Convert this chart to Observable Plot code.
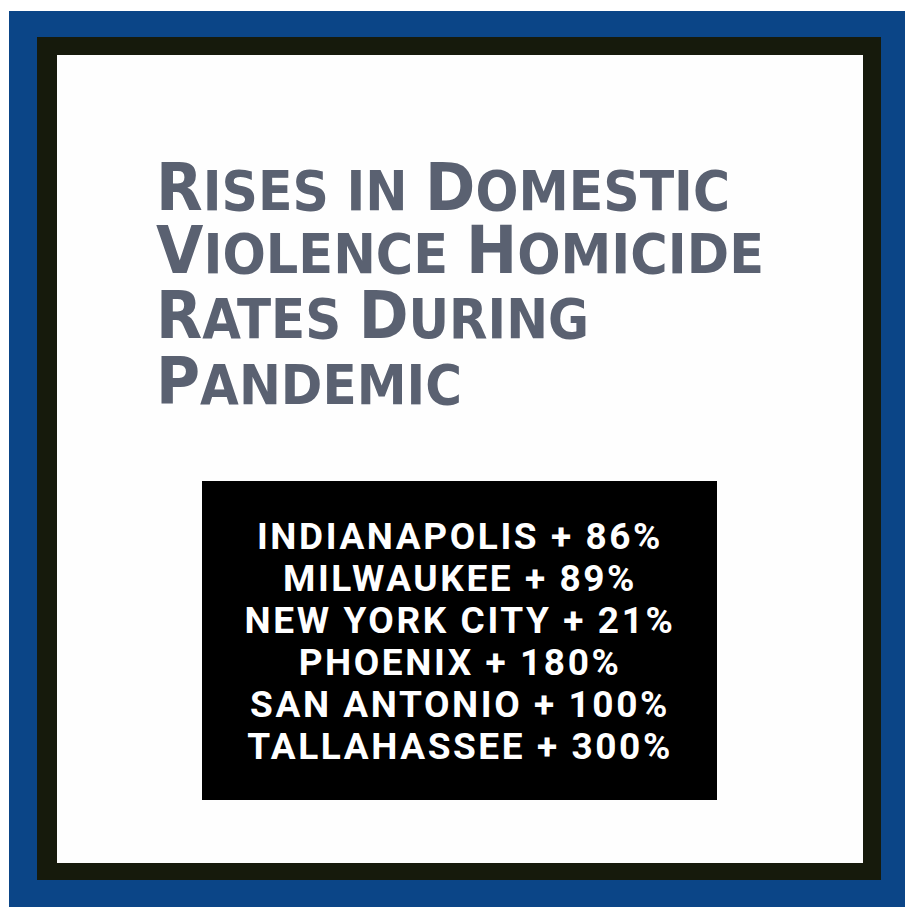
<!DOCTYPE html>
<html>
<head>
<meta charset="utf-8">
<script src="https://cdn.jsdelivr.net/npm/d3@7"></script>
<script src="https://cdn.jsdelivr.net/npm/@observablehq/plot@0.6"></script>
<style>
  html, body { margin: 0; padding: 0; background: #ffffff; width: 905px; height: 907px; overflow: hidden; }
  #blue { position: absolute; left: 9px; top: 11px; width: 896px; height: 896px; background: #0b4587; }
  #black { position: absolute; left: 37px; top: 37px; width: 844px; height: 843px; background: #161a0c; }
  #white { position: absolute; left: 57px; top: 55px; width: 806px; height: 808px; background: #fefefe; }
  .tline { position: absolute; left: 156px; white-space: nowrap; color: #5a6171;
           font-family: "DejaVu Sans", sans-serif; font-weight: bold; font-size: 66px; line-height: 50px; height: 50px;
           transform-origin: 0 50%; }
  .tline .sm { font-size: 55px; line-height: 50px; }
  #table { position: absolute; left: 202px; top: 481px; }
</style>
</head>
<body>
<div id="blue"></div>
<div id="black"></div>
<div id="white"></div>
<div id="title"></div>
<div id="table"></div>
<script>
// ---- data ----
const cities = ["INDIANAPOLIS", "MILWAUKEE", "NEW YORK CITY", "PHOENIX", "SAN ANTONIO", "TALLAHASSEE"];
const rises = [86, 89, 21, 180, 100, 300];
const titleLines = ["Rises in Domestic", "Violence Homicide", "Rates During", "Pandemic"];

// ---- layout (style only) ----
const titleTops = [163, 226, 291, 357];
const titleWidths = [574, 608, 433, 306];

// Title: small-caps look (capital letters drawn larger than the rest)
const titleEl = document.getElementById("title");
titleLines.forEach((line, i) => {
  const div = document.createElement("div");
  div.className = "tline";
  div.style.top = titleTops[i] + "px";
  let html = "";
  for (const ch of line) {
    const isCap = ch !== " " && ch === ch.toUpperCase();
    html += isCap ? ch : `<span class="sm">${ch === " " ? "&nbsp;" : ch.toUpperCase()}</span>`;
  }
  div.innerHTML = html;
  titleEl.appendChild(div);
  const w = div.getBoundingClientRect().width;
  div.style.transform = `scaleX(${titleWidths[i] / w})`;
});

// Table of rises
const data = cities.map((city, i) => ({city, rise: rises[i]}));
const chart = Plot.plot({
  width: 515,
  height: 319,
  marginTop: 54,
  marginBottom: 52,
  marginLeft: 0,
  marginRight: 0,
  y: {domain: cities, axis: null, padding: 0},
  style: {background: "#000000", color: "#ffffff", overflow: "visible"},
  marks: [
    Plot.text(data, {
      y: "city",
      frameAnchor: "middle",
      text: d => `${d.city} + ${d.rise}%`,
      fill: "#ffffff",
      fontSize: 37,
      fontWeight: "bold",
      fontFamily: "Roboto, sans-serif"
    })
  ]
});
document.getElementById("table").appendChild(chart);

// fit letter spacing so the first line matches the reference width
const texts = chart.querySelectorAll("text");
if (texts.length) {
  const first = texts[0];
  const w0 = first.getComputedTextLength();
  const n = first.textContent.length;
  const ls = (406 - w0) / n;
  texts.forEach(t => { t.setAttribute("letter-spacing", ls.toFixed(2)); });
}
</script>
</body>
</html>
